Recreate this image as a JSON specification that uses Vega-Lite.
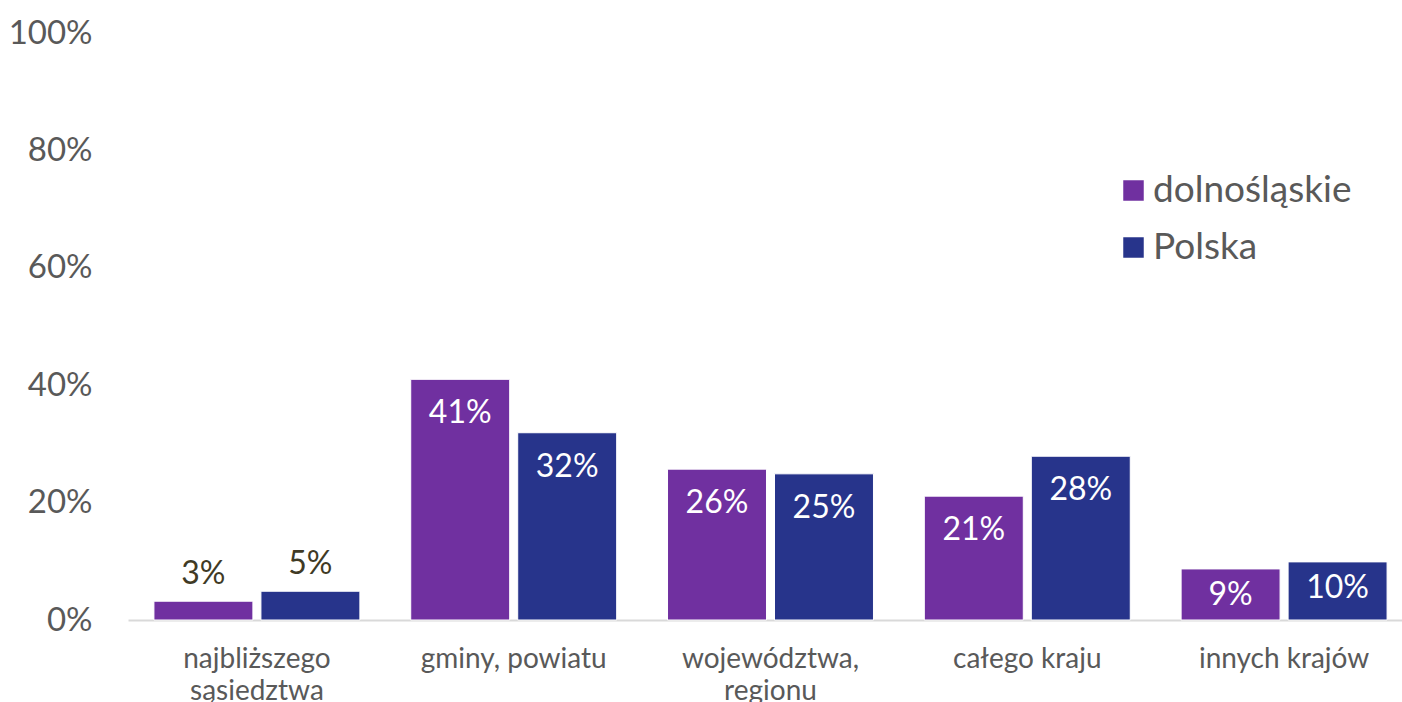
{
  "$schema": "https://vega.github.io/schema/vega-lite/v6.json",
  "width": 1272,
  "height": 587,
  "autosize": "none",
  "padding": {"left": 128, "top": 33, "right": 2, "bottom": 82},
  "config": {
    "font": "Lato",
    "view": {"stroke": null}
  },
  "data": {
    "values": [
      {"kategoria": "najbliższego sąsiedztwa", "seria": "dolnośląskie", "wartosc": 0.032, "etykieta": "3%"},
      {"kategoria": "najbliższego sąsiedztwa", "seria": "Polska", "wartosc": 0.049, "etykieta": "5%"},
      {"kategoria": "gminy, powiatu", "seria": "dolnośląskie", "wartosc": 0.41, "etykieta": "41%"},
      {"kategoria": "gminy, powiatu", "seria": "Polska", "wartosc": 0.319, "etykieta": "32%"},
      {"kategoria": "województwa, regionu", "seria": "dolnośląskie", "wartosc": 0.257, "etykieta": "26%"},
      {"kategoria": "województwa, regionu", "seria": "Polska", "wartosc": 0.249, "etykieta": "25%"},
      {"kategoria": "całego kraju", "seria": "dolnośląskie", "wartosc": 0.211, "etykieta": "21%"},
      {"kategoria": "całego kraju", "seria": "Polska", "wartosc": 0.279, "etykieta": "28%"},
      {"kategoria": "innych krajów", "seria": "dolnośląskie", "wartosc": 0.087, "etykieta": "9%"},
      {"kategoria": "innych krajów", "seria": "Polska", "wartosc": 0.099, "etykieta": "10%"}
    ]
  },
  "encoding": {
    "x": {
      "field": "kategoria",
      "type": "nominal",
      "sort": null,
      "scale": {"paddingInner": 0.198, "paddingOuter": 0.101, "range": [0, 1285]},
      "axis": {
        "title": null,
        "labelAngle": 0,
        "labelFontSize": 28,
        "labelColor": "#595959",
        "labelPadding": 25,
        "labelLineHeight": 32,
        "labelLimit": 300,
        "ticks": false,
        "domainColor": "#D9D9D9",
        "domainWidth": 2,
        "labelExpr": "datum.value == 'najbliższego sąsiedztwa' ? ['najbliższego', 'sąsiedztwa'] : datum.value == 'województwa, regionu' ? ['województwa,', 'regionu'] : datum.value"
      }
    },
    "xOffset": {
      "field": "seria",
      "type": "nominal",
      "sort": ["dolnośląskie", "Polska"],
      "scale": {"paddingInner": 0.075}
    },
    "y": {
      "field": "wartosc",
      "type": "quantitative",
      "scale": {"domain": [0, 1]},
      "axis": {
        "title": null,
        "format": ".0%",
        "values": [0, 0.2, 0.4, 0.6, 0.8, 1],
        "grid": false,
        "domain": false,
        "ticks": false,
        "labelFontSize": 33,
        "labelColor": "#595959",
        "labelPadding": 36
      }
    }
  },
  "layer": [
    {
      "mark": {"type": "bar", "stroke": "#ffffff", "strokeWidth": 1},
      "encoding": {
        "color": {
          "field": "seria",
          "type": "nominal",
          "sort": ["dolnośląskie", "Polska"],
          "scale": {"domain": ["dolnośląskie", "Polska"], "range": ["#7030A0", "#27348B"]},
          "legend": {
            "title": null,
            "orient": "none",
            "legendX": 987,
            "legendY": 139,
            "symbolType": "square",
            "symbolSize": 420,
            "symbolStrokeWidth": 0,
            "labelFontSize": 37,
            "labelColor": "#595959",
            "labelOffset": 1,
            "rowPadding": 19,
            "labelLimit": 400
          }
        }
      }
    },
    {
      "transform": [{"filter": "datum.kategoria == 'najbliższego sąsiedztwa'"}],
      "mark": {"type": "text", "baseline": "middle", "dy": -27, "fontSize": 32, "color": "#403A25"},
      "encoding": {"text": {"field": "etykieta"}}
    },
    {
      "transform": [{"filter": "datum.kategoria != 'najbliższego sąsiedztwa' && datum.kategoria != 'innych krajów'"}],
      "mark": {"type": "text", "baseline": "middle", "dy": 34, "fontSize": 32, "color": "#ffffff"},
      "encoding": {"text": {"field": "etykieta"}}
    },
    {
      "transform": [{"filter": "datum.kategoria == 'innych krajów'"}],
      "mark": {"type": "text", "baseline": "middle", "dy": 26, "fontSize": 32, "color": "#ffffff"},
      "encoding": {"text": {"field": "etykieta"}}
    }
  ]
}
